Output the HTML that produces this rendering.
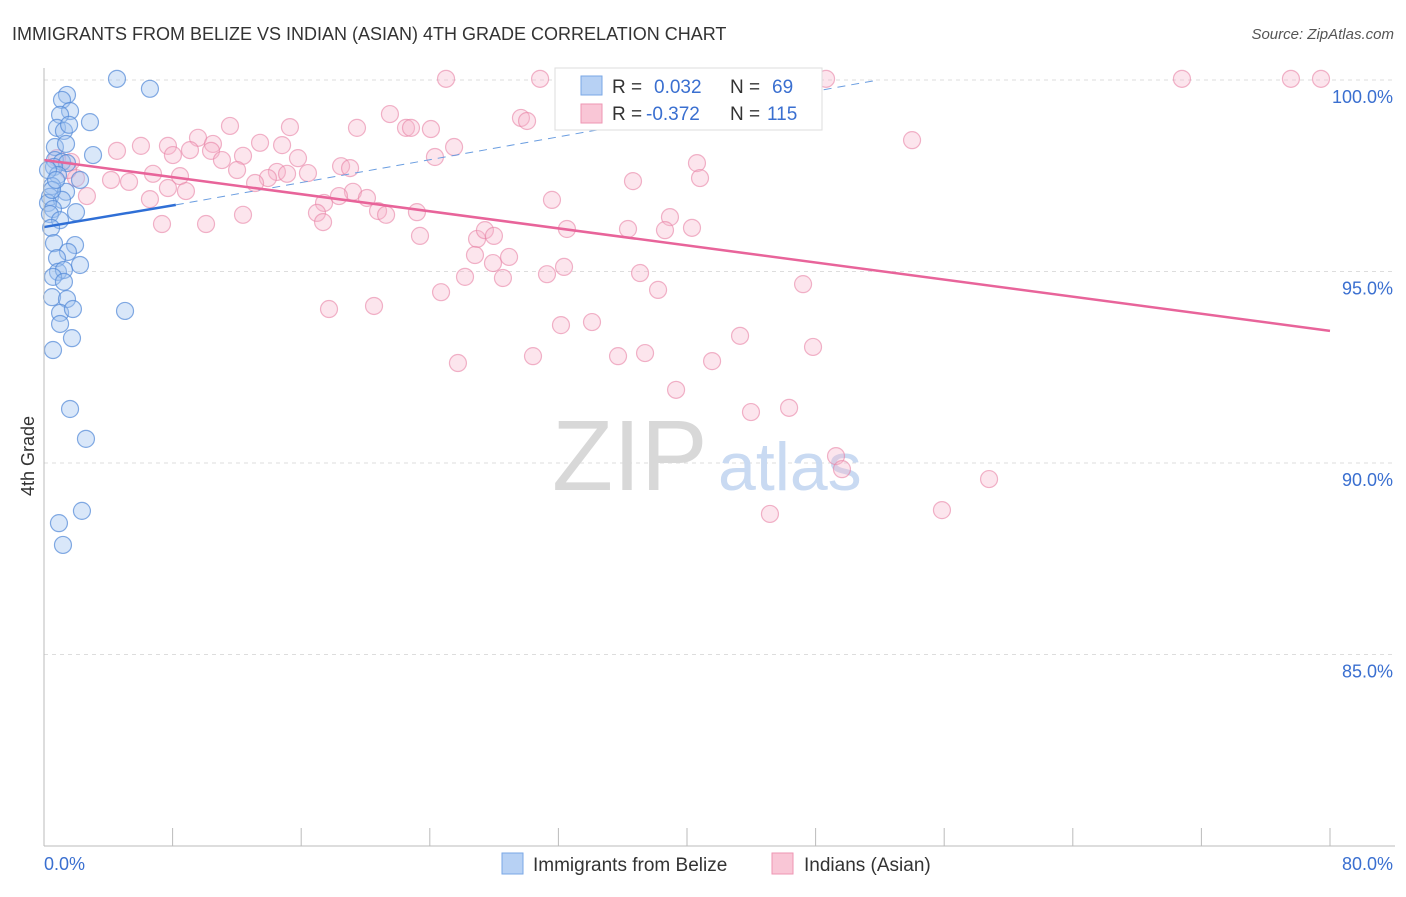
<!DOCTYPE html>
<html><head><meta charset="utf-8"><style>
body{margin:0;background:#fff;font-family:"Liberation Sans",sans-serif;}
svg text{font-family:"Liberation Sans",sans-serif;}
</style></head><body>
<svg id="chart" width="1406" height="892">
<text x="12" y="40" font-size="18" fill="#333">IMMIGRANTS FROM BELIZE VS INDIAN (ASIAN) 4TH GRADE CORRELATION CHART</text>
<text x="1394" y="39" font-size="15" fill="#555" text-anchor="end" font-style="italic">Source: ZipAtlas.com</text>
<g id="grid"></g>
<g><text x="552" y="490" font-size="100" fill="#d8d8d8" font-family="Liberation Serif,serif">ZIP</text><text x="718" y="490" font-size="68" fill="#c9daf2">atlas</text></g>
<g id="pts"></g>
<g id="trend"></g>
<g id="axes"></g>
<text x="34" y="456" font-size="18" fill="#333" transform="rotate(-90 34 456)" text-anchor="middle">4th Grade</text>
<g>
<rect x="555" y="68" width="267" height="62" fill="#fff" stroke="#ddd"/>
<rect x="581" y="76" width="21" height="19" fill="#b7d1f4" stroke="#7aa7e6"/>
<rect x="581" y="104" width="21" height="19" fill="#f9c6d6" stroke="#ee96b3"/>
<text x="612" y="93" font-size="19" fill="#333">R =</text><text x="654" y="93" font-size="19" fill="#3a6fd0">0.032</text>
<text x="730" y="93" font-size="19" fill="#333">N =</text><text x="772" y="93" font-size="19" fill="#3a6fd0">69</text>
<text x="612" y="120" font-size="19" fill="#333">R =</text><text x="646" y="120" font-size="19" fill="#3a6fd0">-0.372</text>
<text x="730" y="120" font-size="19" fill="#333">N =</text><text x="767" y="120" font-size="19" fill="#3a6fd0">115</text>
</g>
<g>
<rect x="502" y="853" width="21" height="21" fill="#b7d1f4" stroke="#7aa7e6"/>
<text x="533" y="871" font-size="19" fill="#333">Immigrants from Belize</text>
<rect x="772" y="853" width="21" height="21" fill="#f9c6d6" stroke="#ee96b3"/>
<text x="804" y="871" font-size="19" fill="#333">Indians (Asian)</text>
</g>
</svg>
<script>
const yTicks=[100,95,90,85];
const yTickLabels=["100.0%","95.0%","90.0%","85.0%"];
const xEndLabels=["0.0%","80.0%"];
const blueX=[4.54,6.59,1.43,1.12,1.62,1.0,2.86,0.81,1.24,1.56,0.68,1.37,3.05,0.68,1.12,1.43,0.62,0.87,2.24,0.5,1.37,0.37,1.12,0.25,0.56,1.99,0.37,1.0,0.44,0.62,1.93,1.49,0.81,2.24,0.87,1.24,0.56,1.24,0.5,1.43,1.0,1.8,5.04,1.0,1.74,0.56,1.62,2.61,2.36,0.93,1.18,0.25,0.5,0.75];
const blueY=[100.03,99.77,99.61,99.48,99.19,99.09,98.9,98.75,98.67,98.83,98.25,98.33,98.04,97.91,97.86,97.83,97.73,97.52,97.39,97.23,97.08,96.95,96.87,96.79,96.63,96.55,96.5,96.34,96.14,95.74,95.69,95.51,95.35,95.17,94.99,95.04,94.86,94.73,94.33,94.28,93.92,94.02,93.97,93.63,93.26,92.95,91.41,90.63,88.75,88.43,87.86,97.65,97.13,97.39];
const pinkX=[25.01,30.86,48.65,70.79,77.57,79.44,21.52,29.67,30.05,19.47,22.52,22.83,24.07,15.30,11.57,9.58,10.51,13.44,14.81,4.54,6.03,7.71,9.08,10.39,12.38,15.80,24.32,25.51,54.00,40.62,8.02,11.07,12.01,18.48,19.04,14.49,15.12,16.42,13.93,13.13,6.78,8.46,5.29,4.17,1.99,1.68,0.81,1.49,2.67,6.59,7.71,8.83,19.22,20.09,17.42,18.35,20.78,21.28,23.20,16.98,17.36,12.38,10.08,7.34,31.60,36.64,40.81,38.94,23.39,26.94,27.43,27.99,32.53,36.33,38.63,40.31,26.81,27.93,28.93,32.35,31.29,37.08,26.19,28.55,24.70,38.20,47.22,17.73,20.53,32.16,34.09,43.30,47.84,25.75,30.42,35.71,37.39,41.56,39.32,43.98,46.35,49.27,49.64,58.79,45.16,55.86];
const pinkY=[100.03,100.03,100.03,100.03,100.03,100.03,99.11,99.01,98.93,98.75,98.75,98.75,98.72,98.77,98.80,98.49,98.33,98.36,98.30,98.15,98.28,98.28,98.17,98.15,98.02,97.96,97.99,98.25,98.43,97.83,98.04,97.91,97.65,97.75,97.70,97.60,97.55,97.57,97.44,97.31,97.55,97.49,97.34,97.39,97.44,97.86,97.96,97.65,96.97,96.89,97.18,97.10,97.08,96.92,96.79,96.97,96.58,96.48,96.55,96.53,96.29,96.48,96.24,96.24,96.87,97.36,97.44,96.42,95.93,95.85,96.08,95.93,96.11,96.11,96.08,96.14,95.43,95.22,95.38,95.12,94.93,94.96,94.86,94.83,94.46,94.52,94.67,94.02,94.10,93.60,93.68,93.32,93.03,92.61,92.79,92.79,92.87,92.66,91.91,91.33,91.44,90.18,89.84,89.58,88.67,88.77];
const blueTrend=[[0,96.16],[8.2,96.74]];
const blueTrendDash=[[8.2,96.74],[51.9,100.0]];
const pinkTrend=[[0,97.91],[80,93.45]];
const NS="http://www.w3.org/2000/svg";
const X0=44,X1=1330,Y100=80,Y80=846;
function sx(v){return X0+(v/80)*(X1-X0);}
function sy(v){return Y100+(100-v)/20*(Y80-Y100);}
function mk(t,a,p){const e=document.createElementNS(NS,t);for(const k in a)e.setAttribute(k,a[k]);p.appendChild(e);return e;}
const grid=document.getElementById('grid'),axes=document.getElementById('axes');
yTicks.forEach((v,i)=>{
 const l=mk('line',{x1:X0,x2:1395,y1:sy(v),y2:sy(v),stroke:'#ddd','stroke-dasharray':'4,4'},grid);
 
 
 const t=mk('text',{x:1393,y:sy(v)+23,'font-size':18,fill:'#3a6fd0','text-anchor':'end'},axes);
 t.textContent=yTickLabels[i];
 
 
});
mk('line',{x1:X0,x2:X0,y1:68,y2:846,stroke:'#bbb'},axes);
mk('line',{x1:X0,x2:1395,y1:846,y2:846,stroke:'#bbb'},axes);
for(let i=0;i<=10;i++){const tk=mk('line',{x1:sx(i*8),x2:sx(i*8),y1:828,y2:846,stroke:'#bbb'},axes);
 
 }
const t0=mk('text',{x:44,y:870,'font-size':18,fill:'#3a6fd0'},axes);t0.textContent=xEndLabels[0];


const t1=mk('text',{x:1393,y:870,'font-size':18,fill:'#3a6fd0','text-anchor':'end'},axes);t1.textContent=xEndLabels[1];


const pts=document.getElementById('pts');
pinkX.forEach((x,i)=>{const c=mk('circle',{cx:sx(x),cy:sy(pinkY[i]),r:8.5,fill:'rgba(246,180,202,0.35)',stroke:'rgba(232,130,165,0.6)','stroke-width':1.2},pts);
 
 });
blueX.forEach((x,i)=>{const c=mk('circle',{cx:sx(x),cy:sy(blueY[i]),r:8.5,fill:'rgba(160,195,240,0.4)',stroke:'rgba(80,135,215,0.7)','stroke-width':1.2},pts);
 
 });
const tr=document.getElementById('trend');
const b1=mk('line',{x1:sx(blueTrend[0][0]),y1:sy(blueTrend[0][1]),x2:sx(blueTrend[1][0]),y2:sy(blueTrend[1][1]),stroke:'#2f6fd6','stroke-width':2.5},tr);


const b2=mk('line',{x1:sx(blueTrendDash[0][0]),y1:sy(blueTrendDash[0][1]),x2:sx(blueTrendDash[1][0]),y2:sy(blueTrendDash[1][1]),stroke:'#6a9de0','stroke-width':1,'stroke-dasharray':'8,6'},tr);


const p1=mk('line',{x1:sx(pinkTrend[0][0]),y1:sy(pinkTrend[0][1]),x2:sx(pinkTrend[1][0]),y2:sy(pinkTrend[1][1]),stroke:'#e8649a','stroke-width':2.5},tr);


</script>
</body></html>
